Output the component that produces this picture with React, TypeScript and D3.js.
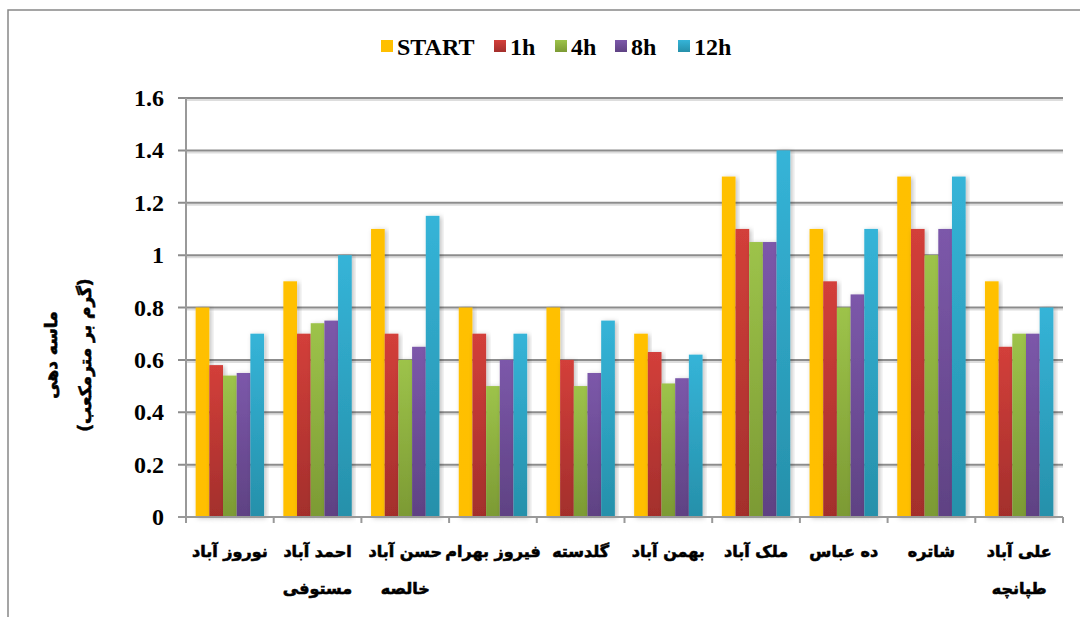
import React, { useEffect, useRef } from 'react';
import * as d3 from 'd3';

const CATEGORIES = [
  ['نوروز آباد'],
  ['احمد آباد', 'مستوفی'],
  ['حسن آباد', 'خالصه'],
  ['فیروز بهرام'],
  ['گلدسته'],
  ['بهمن آباد'],
  ['ملک آباد'],
  ['ده عباس'],
  ['شاتره'],
  ['علی آباد', 'طپانچه'],
];
const SERIES = ['START', '1h', '4h', '8h', '12h'];
const START = [0.8, 0.9, 1.1, 0.8, 0.8, 0.7, 1.3, 1.1, 1.3, 0.9];
const H1 = [0.58, 0.7, 0.7, 0.7, 0.6, 0.63, 1.1, 0.9, 1.1, 0.65];
const H4 = [0.54, 0.74, 0.6, 0.5, 0.5, 0.51, 1.05, 0.8, 1.0, 0.7];
const H8 = [0.55, 0.75, 0.65, 0.6, 0.55, 0.53, 1.05, 0.85, 1.1, 0.7];
const H12 = [0.7, 1.0, 1.15, 0.7, 0.75, 0.62, 1.4, 1.1, 1.3, 0.8];
const Y_TICKS = [0, 0.2, 0.4, 0.6, 0.8, 1, 1.2, 1.4, 1.6];
const Y_TITLE = ['ماسه دهی', '(گرم بر مترمکعب)'];

const COLORS = [
  ['#ffc000', '#ffbf00'],
  ['#d33f3a', '#a32f2c'],
  ['#9dc34a', '#7c9a34'],
  ['#7c58aa', '#5f4283'],
  ['#35b4d8', '#2690aa'],
];

const W = 1080;
const H = 617;
const M = { left: 186, right: 1063, top: 98, bottom: 517 };

export default function App() {
  const ref = useRef<SVGSVGElement>(null);

  useEffect(() => {
    const svg = d3.select(ref.current);
    svg.selectAll('*').remove();
    const values = [START, H1, H4, H8, H12];
    const serif = '"Liberation Serif", "Times New Roman", serif';
    const arabic = '"DejaVu Sans", sans-serif';

    const defs = svg.append('defs');
    COLORS.forEach((c, i) => {
      const g = defs.append('linearGradient').attr('id', 'g' + i)
        .attr('x1', 0).attr('y1', 0).attr('x2', 0).attr('y2', 1);
      g.append('stop').attr('offset', '0%').attr('stop-color', c[0]);
      g.append('stop').attr('offset', '100%').attr('stop-color', c[1]);
    });
    const f = defs.append('filter').attr('id', 'sh')
      .attr('x', '-30%').attr('y', '-5%').attr('width', '160%').attr('height', '110%');
    f.append('feDropShadow').attr('dx', 2).attr('dy', 1).attr('stdDeviation', 2.5)
      .attr('flood-color', '#000').attr('flood-opacity', 0.25);

    // outer frame
    svg.append('path').attr('d', `M8,${H + 2}V10H${W + 2}`)
      .attr('fill', 'none').attr('stroke', '#888').attr('stroke-width', 1.5);

    const x0 = d3.scaleBand<number>().domain(d3.range(CATEGORIES.length))
      .range([M.left, M.right]).paddingInner(0.22).paddingOuter(0.11);
    const x1 = d3.scaleBand<number>().domain(d3.range(SERIES.length))
      .range([0, x0.bandwidth()]);
    const y = d3.scaleLinear().domain([0, 1.6]).range([M.bottom, M.top]);

    // grid
    const grid = svg.append('g');
    Y_TICKS.slice(1).forEach(t => {
      grid.append('line').attr('x1', M.left).attr('x2', M.right)
        .attr('y1', y(t) + 2).attr('y2', y(t) + 2)
        .attr('stroke', '#ddd').attr('stroke-width', 2);
      grid.append('line').attr('x1', 178).attr('x2', M.right)
        .attr('y1', y(t)).attr('y2', y(t))
        .attr('stroke', '#8c8c8c').attr('stroke-width', 2);
    });

    // bars
    const bars = svg.append('g');
    values.forEach((vals, s) => {
      bars.append('g').selectAll('rect').data(vals).join('rect')
        .attr('x', (_d, i) => (x0(i) as number) + (x1(s) as number))
        .attr('y', d => y(d))
        .attr('width', x1.bandwidth())
        .attr('height', d => y(0) - y(d))
        .attr('fill', `url(#g${s})`)
        .attr('filter', 'url(#sh)');
    });

    // y axis
    const ya = svg.append('g');
    ya.append('line').attr('x1', M.left).attr('x2', M.left)
      .attr('y1', M.top).attr('y2', M.bottom + 5).attr('stroke', '#999').attr('stroke-width', 2);
    ya.append('line').attr('x1', 178).attr('x2', M.right)
      .attr('y1', M.bottom).attr('y2', M.bottom).attr('stroke', '#999').attr('stroke-width', 2);
    ya.selectAll('text').data(Y_TICKS).join('text')
      .attr('x', 164).attr('y', d => y(d) + 8)
      .attr('text-anchor', 'end')
      .attr('font-family', serif).attr('font-weight', 'bold').attr('font-size', 24)
      .attr('fill', '#000')
      .text(d => String(d));

    // x ticks
    const step = x0.step();
    d3.range(CATEGORIES.length + 1).forEach(i => {
      const xx = M.left + i * step;
      ya.append('line').attr('x1', xx).attr('x2', xx)
        .attr('y1', M.bottom).attr('y2', M.bottom + 6)
        .attr('stroke', '#999').attr('stroke-width', 2);
    });

    // x labels
    const xl = svg.append('g');
    CATEGORIES.forEach((lines, i) => {
      const cx = (x0(i) as number) + x0.bandwidth() / 2;
      lines.forEach((ln, j) => {
        xl.append('text').attr('x', cx).attr('y', 557 + j * 37)
          .attr('text-anchor', 'middle').attr('direction', 'rtl')
          .attr('font-family', arabic).attr('font-weight', 'bold').attr('font-size', 16)
          .attr('fill', '#000').attr('stroke', '#000').attr('stroke-width', 0.6)
          .text(ln);
      });
    });

    // y title
    Y_TITLE.forEach((ln, j) => {
      svg.append('text')
        .attr('transform', `translate(${57 + j * 34},355) rotate(-90)`)
        .attr('text-anchor', 'middle')
        .attr('font-family', arabic).attr('font-weight', 'bold').attr('font-size', 17)
        .attr('fill', '#000').attr('stroke', '#000').attr('stroke-width', 0.6)
        .text(ln);
    });

    // legend
    const legX = [381, 494, 555, 615, 678];
    const lg = svg.append('g');
    SERIES.forEach((s, i) => {
      lg.append('rect').attr('x', legX[i]).attr('y', 40).attr('width', 12).attr('height', 12)
        .attr('fill', `url(#g${i})`);
      lg.append('text').attr('x', legX[i] + 16).attr('y', 55)
        .attr('font-family', serif).attr('font-weight', 'bold').attr('font-size', 24)
        .attr('fill', '#000')
        .text(s);
    });
  }, []);

  return (
    <svg ref={ref} width={W} height={H}
      style={{ position: 'absolute', left: 0, top: 0, display: 'block', background: '#fff' }} />
  );
}
